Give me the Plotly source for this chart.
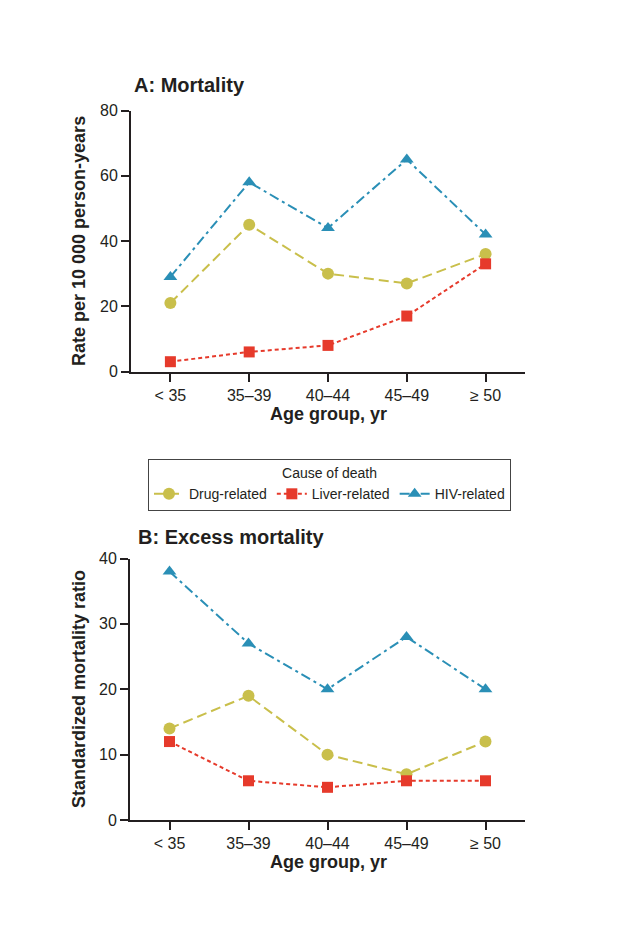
import plotly.graph_objects as go

# page body adds an 8px offset; compensate so screen pixels match the reference
OFF = 8
W, H = 621 - OFF, 932 - OFF

age_groups = ["< 35", "35–39", "40–44", "45–49", "≥ 50"]

mort_drug = [21, 45, 30, 27, 36]
mort_liver = [3, 6, 8, 17, 33]
mort_hiv = [29, 58, 44, 65, 42]

smr_drug = [14, 19, 10, 7, 12]
smr_liver = [12, 6, 5, 6, 6]
smr_hiv = [38, 27, 20, 28, 20]

series_names = ["Drug-related", "Liver-related", "HIV-related"]
colors = ["#c9bf4b", "#e63a2b", "#2a8fb6"]
symbols = ["circle", "square", "triangle-up"]
msizes = [12, 11, 12]
dashes = ["10px,5px", "4px,3px", "10px,4px,3px,4px"]

TXT = "#231f20"
FONT = "Liberation Sans, Arial, Helvetica, sans-serif"

fig = go.Figure()

panels = [
    ([mort_drug, mort_liver, mort_hiv], "x", "y", True),
    ([smr_drug, smr_liver, smr_hiv], "x2", "y2", False),
]
for data, xa, ya, show in panels:
    for i, vals in enumerate(data):
        fig.add_trace(go.Scatter(
            x=list(range(len(age_groups))), y=vals, xaxis=xa, yaxis=ya,
            mode="lines+markers", name=series_names[i], showlegend=show,
            line=dict(color=colors[i], width=2, dash=dashes[i]),
            marker=dict(color=colors[i], symbol=symbols[i], size=msizes[i]),
            cliponaxis=False,
        ))

def px_x(v):
    return (v - OFF) / W

def px_y(v):
    return 1 - (v - OFF) / H

axis_common = dict(
    showline=True, linecolor=TXT, linewidth=2, ticks="outside", ticklen=8,
    tickwidth=1.5, tickcolor=TXT, showgrid=False, zeroline=False,
    automargin=False,
    tickfont=dict(family=FONT, size=16, color=TXT),
)

xcommon = dict(axis_common, range=[-0.5, 4.5], tickmode="array",
               tickvals=list(range(len(age_groups))), ticktext=age_groups)

fig.update_layout(
    template="none",
    width=W, height=H,
    margin=dict(l=0, r=0, t=0, b=0, autoexpand=False),
    paper_bgcolor="white", plot_bgcolor="white",
    font=dict(family=FONT, color=TXT),
    xaxis=dict(xcommon, domain=[px_x(131), px_x(525)], anchor="y"),
    yaxis=dict(axis_common, domain=[px_y(371.5), px_y(110.5)], range=[0, 80],
               tickvals=[0, 20, 40, 60, 80], anchor="x"),
    xaxis2=dict(xcommon, domain=[px_x(130), px_x(525)], anchor="y2"),
    yaxis2=dict(axis_common, domain=[px_y(820), px_y(558.5)], range=[0, 40],
                tickvals=[0, 10, 20, 30, 40], anchor="x2"),
    legend=dict(
        orientation="h", x=px_x(329.5), y=px_y(459), xanchor="center", yanchor="top",
        bordercolor="#444444", borderwidth=1, bgcolor="white",
        font=dict(family=FONT, size=14, color=TXT),
        title=dict(text="Cause of death", side="top center",
                   font=dict(family=FONT, size=14, color=TXT)),
        itemwidth=30,
    ),
    showlegend=True,
)

annots = [
    dict(text="<b>A: Mortality</b>", x=px_x(132), y=px_y(85), xanchor="left",
         yanchor="middle", font=dict(size=20)),
    dict(text="<b>B: Excess mortality</b>", x=px_x(136), y=px_y(537), xanchor="left",
         yanchor="middle", font=dict(size=20)),
    dict(text="<b>Rate per 10 000 person-years</b>", x=px_x(79), y=px_y(241),
         xanchor="center", yanchor="middle", textangle=-90, font=dict(size=18)),
    dict(text="<b>Standardized mortality ratio</b>", x=px_x(79), y=px_y(689),
         xanchor="center", yanchor="middle", textangle=-90, font=dict(size=18)),
    dict(text="<b>Age group, yr</b>", x=px_x(328), y=px_y(414),
         xanchor="center", yanchor="middle", font=dict(size=18)),
    dict(text="<b>Age group, yr</b>", x=px_x(328), y=px_y(862),
         xanchor="center", yanchor="middle", font=dict(size=18)),
]
for a in annots:
    a.update(xref="paper", yref="paper", showarrow=False)
    a["font"].update(family=FONT, color=TXT)
    fig.add_annotation(**a)

fig.write_html("out.html")
